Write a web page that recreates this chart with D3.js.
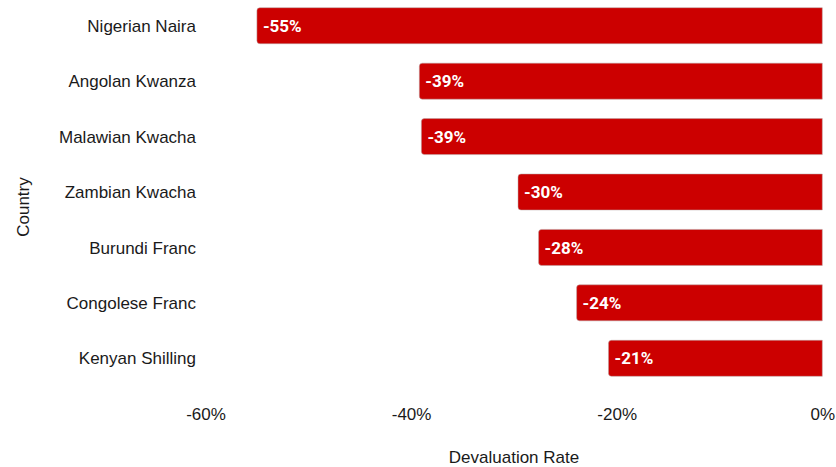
<!DOCTYPE html>
<html>
<head>
<meta charset="utf-8">
<script src="https://cdn.jsdelivr.net/npm/d3@7/dist/d3.min.js"></script>
<style>
  html, body { margin: 0; padding: 0; background: #fff; }
  svg { display: block; }
</style>
</head>
<body>
<svg id="chart" width="836" height="467"></svg>
<script>
// Currency devaluation rates (%), largest drop first
const countries = [
  "Nigerian Naira",
  "Angolan Kwanza",
  "Malawian Kwacha",
  "Zambian Kwacha",
  "Burundi Franc",
  "Congolese Franc",
  "Kenyan Shilling"
];
const devaluation = [-55.0, -39.2, -39.0, -29.6, -27.6, -23.9, -20.8];
const xTicks = [-60, -40, -20, 0];

const data = countries.map((c, i) => ({ country: c, value: devaluation[i] }));

const svg = d3.select("#chart");
const fontFamily = "'Liberation Sans', Arial, sans-serif";
const barColor = "#cc0000";
const locale = d3.formatLocale({ decimal: ".", thousands: ",", grouping: [3], currency: ["", ""], minus: "-" });

const x = d3.scaleLinear().domain([-60, 0]).range([205.5, 822.3]);
const y = d3.scaleBand()
  .domain(countries)
  .range([-2, 386])
  .paddingInner(0.35)
  .paddingOuter(0.175);

// Bars: rounded on the left end, square where they meet zero
const r = 3;
svg.append("g")
  .selectAll("path")
  .data(data)
  .join("path")
  .attr("d", d => {
    const x0 = x(d.value), x1 = x(0);
    const y0 = y(d.country), h = y.bandwidth();
    const p = d3.path();
    p.moveTo(x1, y0);
    p.lineTo(x0 + r, y0);
    p.arcTo(x0, y0, x0, y0 + r, r);
    p.lineTo(x0, y0 + h - r);
    p.arcTo(x0, y0 + h, x0 + r, y0 + h, r);
    p.lineTo(x1, y0 + h);
    p.closePath();
    return p.toString();
  })
  .attr("fill", barColor)
  .attr("stroke", "#b9a9a9")
  .attr("stroke-width", 0.5);

// Value labels inside each bar
const fmt = v => locale.format(".0f")(v) + "%";
svg.append("g")
  .selectAll("text")
  .data(data)
  .join("text")
  .attr("x", d => x(d.value) + 6)
  .attr("y", d => y(d.country) + y.bandwidth() / 2)
  .attr("dy", "0.36em")
  .attr("fill", "#fff")
  .attr("font-family", "Roboto, 'Open Sans', sans-serif")
  .attr("font-weight", "bold")
  .attr("font-size", 17)
  .text(d => fmt(d.value));

// Category labels
const yAxis = d3.axisLeft(y).tickSize(0).tickPadding(0);
svg.append("g")
  .attr("transform", "translate(196,0)")
  .call(yAxis)
  .call(g => g.select(".domain").remove())
  .call(g => g.selectAll("text")
    .attr("font-family", fontFamily)
    .attr("font-size", 17)
    .attr("fill", "#1a1a1a")
    .attr("dy", "0.36em"));

// Value axis tick labels
const xAxis = d3.axisBottom(x).tickValues(xTicks).tickSize(0).tickPadding(0)
  .tickFormat(d => locale.format("d")(d) + "%");
svg.append("g")
  .attr("transform", "translate(0,408)")
  .call(xAxis)
  .call(g => g.select(".domain").remove())
  .call(g => g.selectAll("text")
    .attr("font-family", fontFamily)
    .attr("font-size", 17)
    .attr("fill", "#1a1a1a")
    .attr("dy", "0.72em"));

// Axis titles
svg.append("text")
  .attr("x", 514)
  .attr("y", 463)
  .attr("text-anchor", "middle")
  .attr("font-family", fontFamily)
  .attr("font-size", 17)
  .attr("fill", "#1a1a1a")
  .text("Devaluation Rate");

svg.append("text")
  .attr("transform", "translate(29,207) rotate(-90)")
  .attr("text-anchor", "middle")
  .attr("font-family", fontFamily)
  .attr("font-size", 17)
  .attr("fill", "#1a1a1a")
  .text("Country");
</script>
</body>
</html>
